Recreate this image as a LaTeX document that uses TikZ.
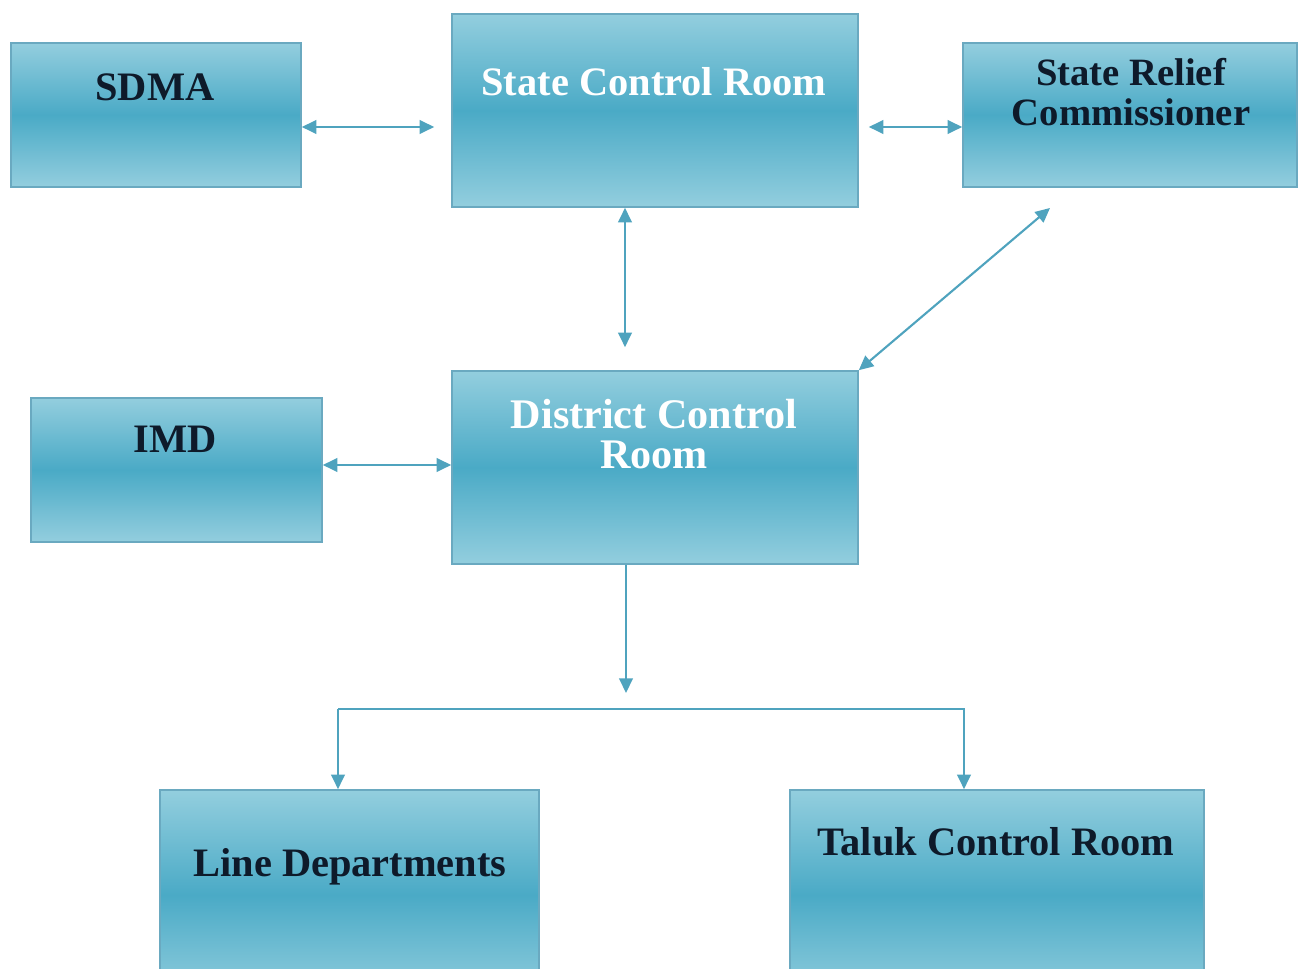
\documentclass[tikz,border=0pt]{standalone}
\usepackage{fontspec}
\setmainfont{Liberation Serif}
\usetikzlibrary{arrows.meta,positioning,calc}
\definecolor{boxlight}{HTML}{93CEDE}
\definecolor{boxmid}{HTML}{4AAAC6}
\definecolor{boxedge}{HTML}{6AA9C0}
\definecolor{linkblue}{HTML}{4FA3BE}
\definecolor{darktext}{HTML}{0E1A2A}
\tikzstyle{box}    = [rectangle,draw=boxedge,line width=0.9pt,top color=boxlight,bottom color=boxlight,middle color=boxmid,inner sep=0pt]
\tikzstyle{title}  = [font=\bfseries\fontsize{23}{26}\selectfont,text=darktext,align=center,inner sep=0pt]
\tikzstyle{arrow}  = [draw=linkblue,line width=1.2pt,-{Triangle[length=0.29cm,width=0.27cm]}]
\tikzstyle{twoway} = [arrow,{Triangle[length=0.29cm,width=0.27cm]}-{Triangle[length=0.29cm,width=0.27cm]}]

\begin{document}
\begin{tikzpicture}
        \useasboundingbox (0,0) rectangle (26.08,-19.38);
        % boxes
        \node[box, minimum width=5.80cm, minimum height=2.88cm] (sdma) at (3.12,-2.30) {};
        \node[box, minimum width=8.12cm, minimum height=3.86cm] (scr) at (13.10,-2.21) {};
        \node[box, minimum width=6.68cm, minimum height=2.88cm] (src) at (22.60,-2.30) {};
        \node[box, minimum width=5.82cm, minimum height=2.88cm] (imd) at (3.53,-9.40) {};
        \node[box, minimum width=8.12cm, minimum height=3.86cm] (dcr) at (13.10,-9.35) {};
        \node[box, minimum width=7.58cm, minimum height=4.20cm] (ld) at (6.99,-17.90) {};
        \node[box, minimum width=8.28cm, minimum height=4.20cm] (tcr) at (19.94,-17.90) {};

        % titles
        \node[title] (sdma-t) at ($(sdma.north)+(-0.02,-0.90)$) {SDMA};
        \node[title, text=white] (scr-t) at ($(scr.north)+(-0.02,-1.36)$) {State Control Room};
        \node[title, font=\bfseries\fontsize{22}{22.5}\selectfont] (src-t) at ($(src.north)+(0.02,-1.00)$) {State Relief\\Commissioner};
        \node[title] (imd-t) at ($(imd.north)+(-0.03,-0.84)$) {IMD};
        \node[title, text=white, font=\bfseries\fontsize{24}{23}\selectfont] (dcr-t) at ($(dcr.north)+(-0.02,-1.28)$) {District Control\\Room};
        \node[title] (ld-t) at ($(ld.north)+(0.01,-1.56)$) {Line Departments};
        \node[title] (tcr-t) at ($(tcr.north)+(-0.02,-1.06)$) {Taluk Control Room};

        % links
        \coordinate (toprow) at (0,-2.54);
        \coordinate (imdrow) at (0,-9.30);
        \coordinate (midcol) at (12.50,0);
        \coordinate (srcfoot) at (21.00,-4.16);
        \coordinate (split) at (12.52,-13.86);
        \coordinate (ldtap) at (6.76,-14.18);
        \coordinate (tcrtap) at (19.28,-14.18);

        \draw[twoway, shorten >=0.34cm] (sdma.east |- toprow) -- (scr.west |- toprow);
        \draw[twoway, shorten <=0.20cm] (scr.east |- toprow) -- (src.west |- toprow);
        \draw[twoway, shorten >=0.46cm] (scr.south -| midcol) -- (dcr.north -| midcol);
        \draw[twoway] (srcfoot) -- (dcr.north east);
        \draw[twoway] (imd.east |- imdrow) -- (dcr.west |- imdrow);
        \draw[arrow] (dcr.south -| split) -- (split);
        \draw[arrow] (ldtap) -- (tcrtap) -- (tcr.north -| tcrtap);
        \draw[arrow] (ldtap) -- (ld.north -| ldtap);
    \end{tikzpicture}
\end{document}
